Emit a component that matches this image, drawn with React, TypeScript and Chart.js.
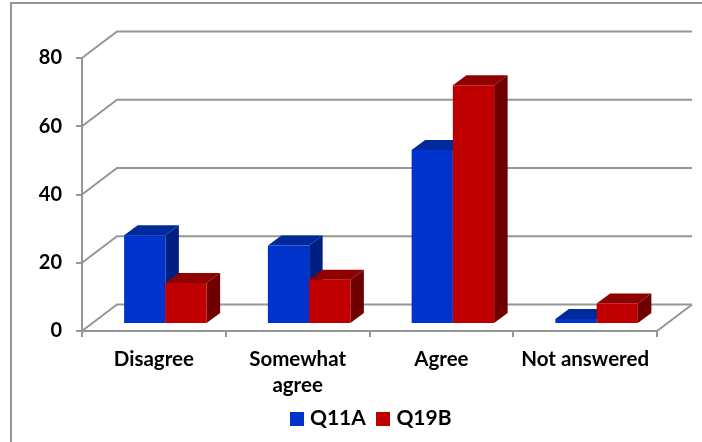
import React, { useEffect, useRef } from "react";
import { Chart, registerables } from "chart.js";

Chart.register(...registerables);

const categories = ["Disagree", ["Somewhat", "agree"], "Agree", "Not answered"];
const q11a = [26, 23, 51, 1.5];
const q19b = [12, 13, 70, 6];
const seriesNames = ["Q11A", "Q19B"];
const yTicks = [0, 20, 40, 60, 80];

const FONT = "Lato";
const GRID = "#969696";
const DX = 35;
const DY = 26.5;
const BAR_SHIFT_X = 11.5;
const BAR_SHIFT_Y = 7;
const BAR_DX = 13.5;
const BAR_DY = 10;
const faces = [
  { top: "#002a9c", side: "#001f80" },
  { top: "#8f0000", side: "#700000" },
];

function segment(ctx: CanvasRenderingContext2D, pts: number[][]) {
  ctx.beginPath();
  pts.forEach((p, i) => (i ? ctx.lineTo(p[0], p[1]) : ctx.moveTo(p[0], p[1])));
  ctx.stroke();
}

function poly(ctx: CanvasRenderingContext2D, pts: number[][], fill: string) {
  ctx.beginPath();
  pts.forEach((p, i) => (i ? ctx.lineTo(p[0], p[1]) : ctx.moveTo(p[0], p[1])));
  ctx.closePath();
  ctx.fillStyle = fill;
  ctx.fill();
}

const scene = {
  id: "scene",
  afterLayout(chart: any) {
    const lg = chart.legend;
    if (!lg) return;
    const dx = 373 - (lg.left + lg.right) / 2;
    lg.left += dx;
    lg.right += dx;
    lg.top = 393;
  },
  beforeDraw(chart: any) {
    const ctx = chart.ctx;
    ctx.save();
    ctx.strokeStyle = GRID;
    ctx.lineWidth = 2;
    segment(ctx, [[702, 3], [11, 3], [11, 442]]);
    ctx.restore();
  },
  beforeDatasetsDraw(chart: any) {
    const { ctx, chartArea, scales } = chart;
    ctx.save();
    ctx.strokeStyle = GRID;
    ctx.lineWidth = 2;
    yTicks.forEach((v) => {
      const y = scales.y.getPixelForValue(v);
      segment(ctx, [
        [chartArea.left, y],
        [chartArea.left + DX, y - DY],
        [chartArea.right + DX, y - DY],
      ]);
    });
    const y0 = scales.y.getPixelForValue(0);
    segment(ctx, [
      [chartArea.right, y0],
      [chartArea.right + DX, y0 - DY],
    ]);
    ctx.restore();
  },
  beforeDatasetDraw() {
    return false;
  },
  afterDatasetsDraw(chart: any) {
    const ctx = chart.ctx;
    ctx.save();
    ctx.translate(BAR_SHIFT_X, -BAR_SHIFT_Y);
    [0, 1].forEach((index) => {
      const meta = chart.getDatasetMeta(index);
      const f = faces[index];
      meta.data.forEach((b: any) => {
        const { x, y, base, width } = b.getProps(["x", "y", "base", "width"], true);
        const l = x - width / 2;
        const r = x + width / 2;
        poly(ctx, [[l, y], [l + BAR_DX, y - BAR_DY], [r + BAR_DX, y - BAR_DY], [r, y]], f.top);
        poly(ctx, [[r, y], [r + BAR_DX, y - BAR_DY], [r + BAR_DX, base - BAR_DY], [r, base]], f.side);
      });
      meta.controller.draw();
    });
    ctx.restore();
  },
};

function legendSwatch(color: string) {
  const c = document.createElement("canvas");
  c.width = 14;
  c.height = 14;
  const g = c.getContext("2d")!;
  g.fillStyle = color;
  g.fillRect(0, 0, 14, 14);
  return c;
}

export default function App() {
  const ref = useRef<HTMLCanvasElement>(null);
  useEffect(() => {
    const blue = "#0033cc";
    const red = "#c00000";
    const chart = new Chart(ref.current!, {
      type: "bar",
      data: {
        labels: categories as any,
        datasets: [
          { label: seriesNames[0], data: q11a, backgroundColor: blue, pointStyle: legendSwatch(blue) as any },
          { label: seriesNames[1], data: q19b, backgroundColor: red, pointStyle: legendSwatch(red) as any },
        ],
      },
      options: {
        responsive: false,
        animation: false,
        layout: { padding: { left: 0, top: 58, right: 45, bottom: -6 } },
        datasets: { bar: { categoryPercentage: 0.574, barPercentage: 1 } },
        plugins: {
          title: { display: false },
          tooltip: { enabled: false },
          legend: {
            position: "bottom",
            labels: {
              usePointStyle: true,
              pointStyleWidth: 5,
              boxHeight: 14,
              padding: 15,
              color: "#000",
              font: { family: FONT, size: 21, weight: "bold" },
            },
          },
        },
        scales: {
          x: {
            afterFit: (s: any) => {
              s.height = 71;
            },
            grid: { drawOnChartArea: false, tickLength: 6, color: GRID, lineWidth: 2 },
            border: { color: GRID, width: 2 },
            ticks: {
              color: "#000",
              padding: 9,
              maxRotation: 0,
              font: { family: FONT, size: 20.5, weight: "bold", lineHeight: 1.27 },
            },
          },
          y: {
            min: 0,
            max: 80,
            afterFit: (s: any) => {
              s.width = 82;
            },
            grid: { drawOnChartArea: false, tickLength: 6, color: GRID, lineWidth: 2 },
            border: { color: GRID, width: 2 },
            ticks: {
              stepSize: 20,
              color: "#000",
              padding: 14,
              font: { family: FONT, size: 20, weight: "bold" },
            },
          },
        },
      } as any,
      plugins: [scene],
    });
    return () => chart.destroy();
  }, []);
  return (
    <div style={{ position: "absolute", left: 0, top: 0, width: 702, height: 442 }}>
      <canvas ref={ref} width={702} height={442} style={{ display: "block" }} />
    </div>
  );
}
